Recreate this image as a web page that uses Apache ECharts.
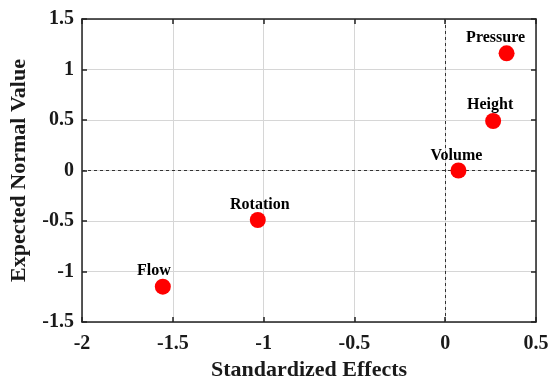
<!DOCTYPE html>
<html>
<head>
<meta charset="utf-8">
<script src="https://cdn.jsdelivr.net/npm/echarts@6/dist/echarts.min.js"></script>
<style>
html,body{margin:0;padding:0;background:#fff;}
#chart{width:552px;height:379px;}
</style>
</head>
<body>
<div id="chart"></div>
<script>
const names = ['Pressure', 'Height', 'Volume', 'Rotation', 'Flow'];
const effects = [0.338, 0.264, 0.073, -1.032, -1.555];
const normalValues = [1.16, 0.49, 0.0, -0.49, -1.15];
const xTicks = [-2, -1.5, -1, -0.5, 0, 0.5];
const yTicks = [-1.5, -1, -0.5, 0, 0.5, 1, 1.5];

const labelShift = {Pressure: [-11, 3], Height: [-3, 2], Volume: [-2, 3], Rotation: [2, 3], Flow: [-9, 2]};

const font = '"Liberation Serif", "Times New Roman", serif';
const chart = echarts.init(document.getElementById('chart'));

const data = names.map((n, i) => ({
  name: n,
  value: [effects[i], normalValues[i]],
  label: {offset: labelShift[n]}
}));

const baseX = {
  type: 'value', min: xTicks[0], max: xTicks[xTicks.length - 1], interval: 0.5,
  axisTick: {inside: true, length: 5, lineStyle: {color: '#222', width: 1.5}},
  axisLine: {onZero: false, lineStyle: {color: '#222', width: 1.5}}
};
const baseY = {
  type: 'value', min: yTicks[0], max: yTicks[yTicks.length - 1], interval: 0.5,
  axisTick: {inside: true, length: 5, lineStyle: {color: '#222', width: 1.5}},
  axisLine: {onZero: false, lineStyle: {color: '#222', width: 1.5}}
};

chart.setOption({
  animation: false,
  grid: {left: 82, right: 16, top: 19, bottom: 57, containLabel: false, outerBoundsMode: 'none'},
  xAxis: [
    Object.assign({}, baseX, {
      position: 'bottom',
      name: 'Standardized Effects', nameLocation: 'middle', nameGap: 36,
      nameTextStyle: {fontFamily: font, fontWeight: 'bold', fontSize: 22, color: '#1a1a1a'},
      axisLabel: {fontFamily: font, fontWeight: 'bold', fontSize: 20, color: '#1a1a1a', margin: 12,
        formatter: v => String(v)},
      splitLine: {show: true, lineStyle: {color: '#d6d6d6', width: 1}}
    }),
    Object.assign({}, baseX, {
      position: 'top', axisLabel: {show: false}, splitLine: {show: false}
    })
  ],
  yAxis: [
    Object.assign({}, baseY, {
      position: 'left',
      name: 'Expected Normal Value', nameLocation: 'middle', nameGap: 52,
      nameTextStyle: {fontFamily: font, fontWeight: 'bold', fontSize: 22, color: '#1a1a1a'},
      axisLabel: {fontFamily: font, fontWeight: 'bold', fontSize: 20, color: '#1a1a1a', margin: 8,
        formatter: v => String(v)},
      splitLine: {show: true, lineStyle: {color: '#d6d6d6', width: 1}}
    }),
    Object.assign({}, baseY, {
      position: 'right', axisLabel: {show: false}, splitLine: {show: false}
    })
  ],
  series: [{
    type: 'scatter',
    xAxisIndex: 0, yAxisIndex: 0,
    symbol: 'circle', symbolSize: 16,
    itemStyle: {color: '#ff0000', opacity: 1},
    label: {
      show: true, position: 'top', distance: 2,
      formatter: p => p.name,
      fontFamily: font, fontWeight: 'bold', fontSize: 16, color: '#000'
    },
    data: data,
    markLine: {
      silent: true, symbol: 'none', label: {show: false},
      lineStyle: {color: '#333', type: [3, 3], width: 1},
      data: [{xAxis: 0}, {yAxis: 0}]
    },
    z: 5
  }]
});
</script>
</body>
</html>
